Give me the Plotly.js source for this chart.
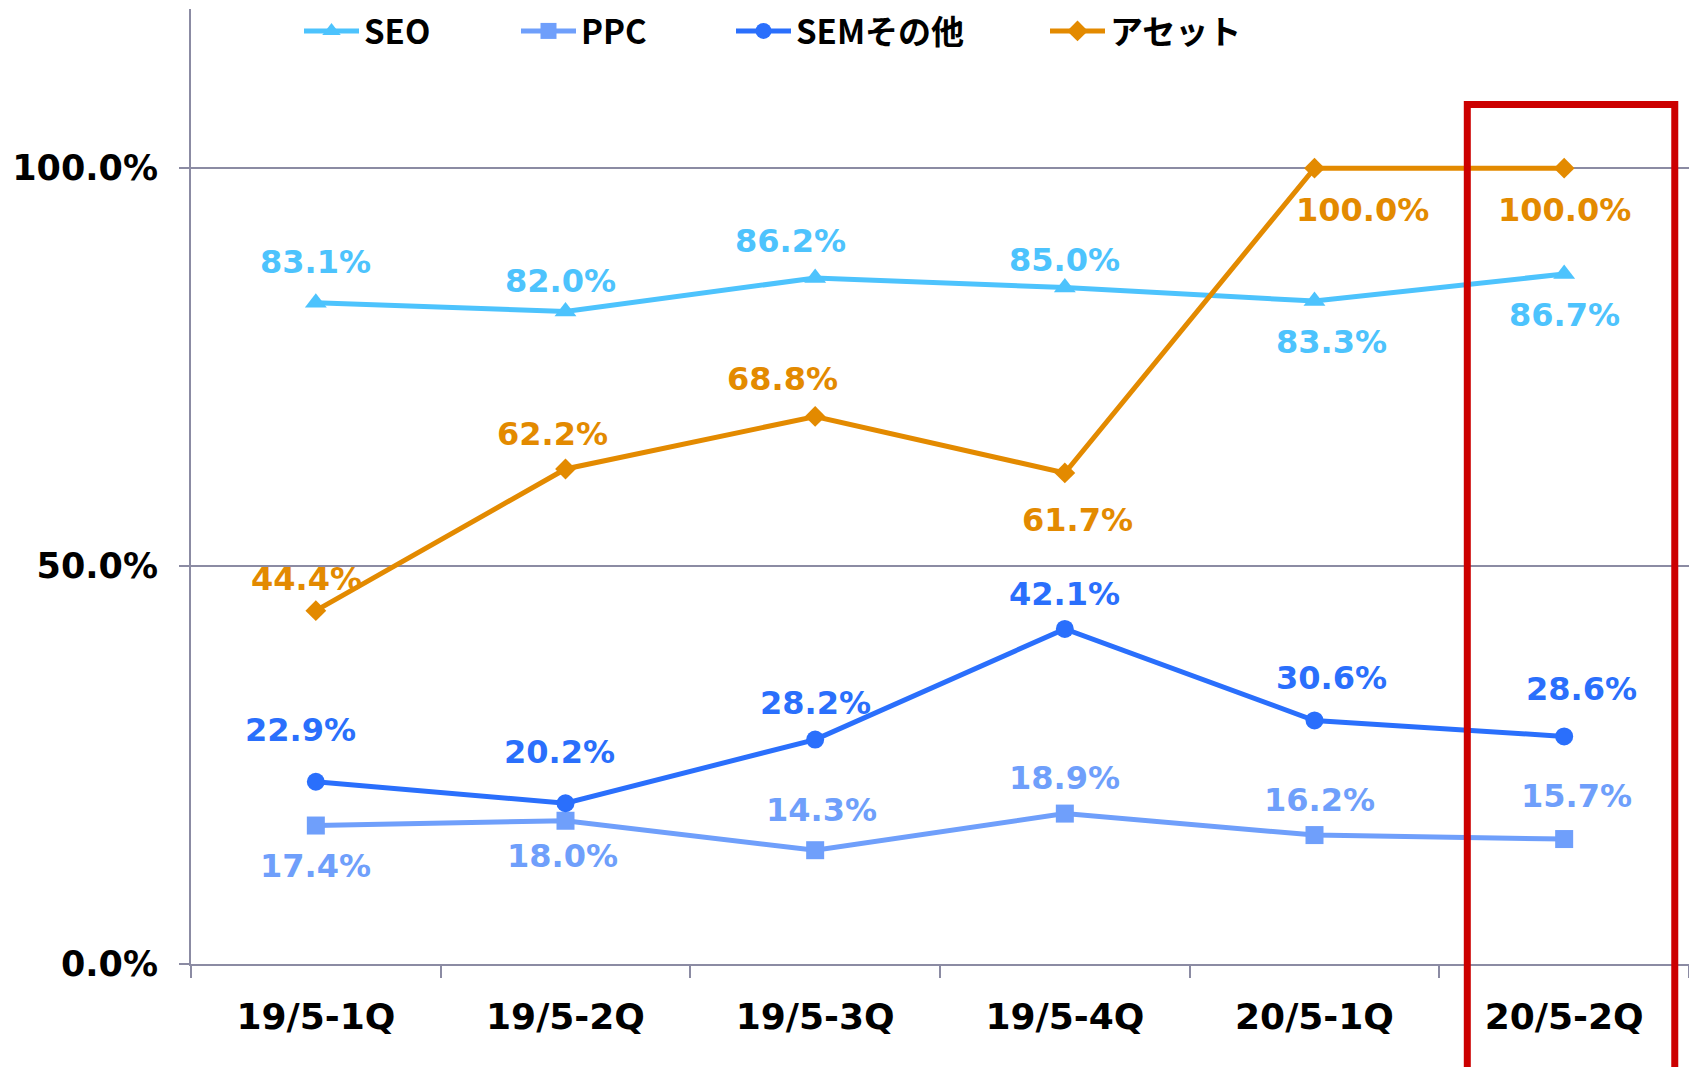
<!DOCTYPE html>
<html><head><meta charset="utf-8">
<script src="https://cdn.plot.ly/plotly-3.0.1.min.js"></script>
<style>html,body{margin:0;padding:0;background:#fff;} #chart{width:1689px;height:1067px;}</style>
</head><body><div id="chart"></div>
<script>
// ---- data ----
const categories = ['19/5-1Q','19/5-2Q','19/5-3Q','19/5-4Q','20/5-1Q','20/5-2Q'];
const seo      = [83.1, 82.0, 86.2, 85.0, 83.3, 86.7];
const ppc      = [17.4, 18.0, 14.3, 18.9, 16.2, 15.7];
const semOther = [22.9, 20.2, 28.2, 42.1, 30.6, 28.6];
const asset    = [44.4, 62.2, 68.8, 61.7, 100.0, 100.0];
const seriesNames = ['SEO', 'PPC', 'SEMその他', 'アセット'];
const yTickVals = [0, 50, 100];

// ---- styles ----
const colors  = ['#4dc3fd', '#6f9ffb', '#2a6ffc', '#e38a00'];
const symbols = ['triangle-up', 'square', 'circle', 'diamond'];
const msizes  = [19, 18, 18, 16];
const labelOffsets = [
  [[0,41],[-5,30],[-25,37],[0,28],[17,-41],[0,-41]],
  [[0,-40],[-3,-35],[6,40],[0,36],[5,35],[12,43]],
  [[-15,52],[-6,51],[0,37],[0,35],[17,42],[17,47]],
  [[-9,32],[-13,35],[-33,37],[13,-47],[48,-42],[0,-42]]
];
const legendPx = [304, 521, 736, 1050];
const axisColor = '#8b8ba3';
const plotL = 191, plotW = 1498;

const allSeries = [seo, ppc, semOther, asset];
const legendIds = ['legend', 'legend2', 'legend3', 'legend4'];

const traces = allSeries.map((vals, i) => ({
  type: 'scatter', mode: 'lines+markers',
  x: categories, y: vals, name: seriesNames[i],
  line: {color: colors[i], width: 5},
  marker: {color: colors[i], symbol: symbols[i], size: msizes[i]},
  legend: legendIds[i], cliponaxis: false
}));

const annotations = [];
allSeries.forEach((vals, i) => {
  vals.forEach((v, j) => {
    annotations.push({
      x: categories[j], y: v, xref: 'x', yref: 'y',
      text: v.toFixed(1) + '%', showarrow: false,
      xshift: labelOffsets[i][j][0], yshift: labelOffsets[i][j][1],
      font: {family: 'DejaVu Sans', size: 32, weight: 'bold', color: colors[i]}
    });
  });
});

const layout = {
  width: 1689, height: 1067,
  margin: {l: plotL, r: 0, t: 9, b: 103, pad: 0},
  paper_bgcolor: '#ffffff', plot_bgcolor: '#ffffff',
  showlegend: true,
  xaxis: {
    type: 'category', range: [-0.5, 5.5], fixedrange: true,
    showline: true, linecolor: axisColor, linewidth: 2,
    ticks: 'outside', tickson: 'boundaries', ticklen: 12, tickwidth: 2, tickcolor: axisColor,
    showgrid: false, zeroline: false,
    ticklabelstandoff: 20,
    tickfont: {family: 'DejaVu Sans', size: 36, weight: 'bold', color: '#000'}
  },
  yaxis: {
    range: [0, 120], fixedrange: true,
    tickvals: yTickVals, ticktext: yTickVals.map(v => v.toFixed(1) + '%'),
    showline: true, linecolor: axisColor, linewidth: 2,
    ticks: 'outside', ticklen: 10, tickwidth: 2, tickcolor: axisColor,
    showgrid: true, gridcolor: axisColor, gridwidth: 1.5, zeroline: false,
    ticklabelstandoff: 14,
    tickfont: {family: 'DejaVu Sans', size: 35, weight: 'bold', color: '#000'}
  },
  annotations: annotations,
  shapes: [{
    type: 'rect', xref: 'paper', yref: 'paper',
    x0: 0.852, x1: 0.9905, y0: -0.12, y1: 0.9,
    line: {color: '#cc0000', width: 7}, fillcolor: 'rgba(0,0,0,0)', layer: 'above'
  }]
};

legendIds.forEach((id, i) => {
  layout[id] = {
    x: (legendPx[i] - 5 - plotL) / plotW, y: 0.977,
    xanchor: 'left', yanchor: 'middle', orientation: 'h',
    bgcolor: 'rgba(0,0,0,0)', borderwidth: 0, itemwidth: 55,
    font: {family: 'Noto Sans CJK JP', size: 33, weight: 'bold', color: '#000'}
  };
});

Plotly.newPlot('chart', traces, layout, {staticPlot: true, displayModeBar: false});
</script>
</body></html>
